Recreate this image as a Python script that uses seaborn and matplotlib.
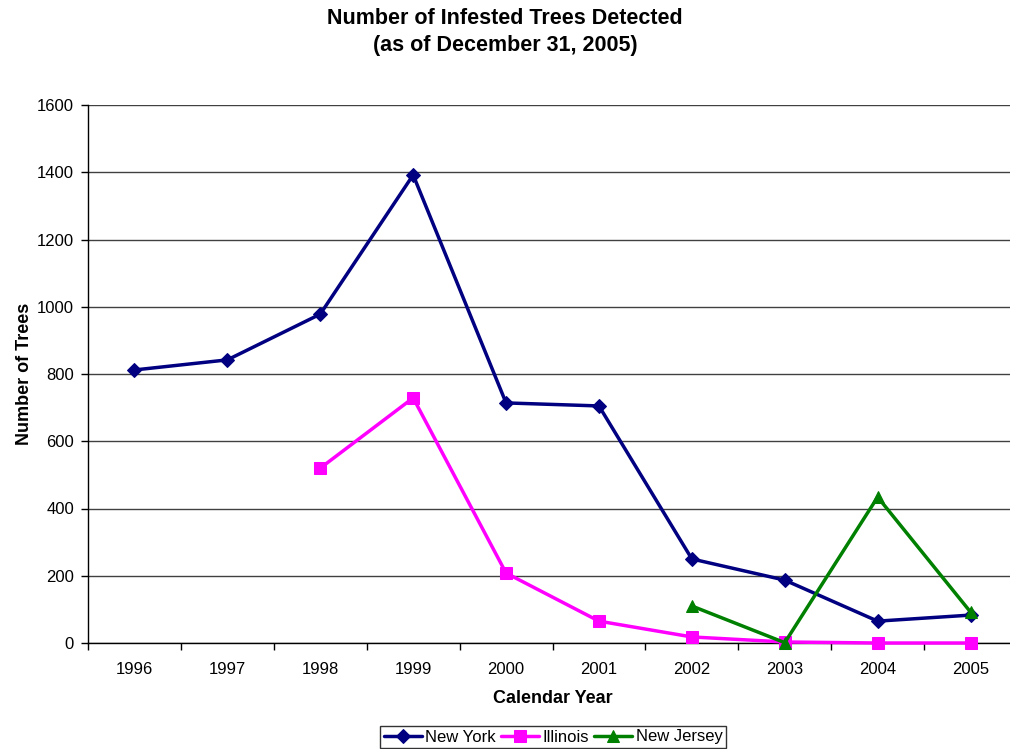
import numpy as np
import pandas as pd
import matplotlib
matplotlib.use("Agg")
import matplotlib.pyplot as plt
import seaborn as sns

years = ["1996", "1997", "1998", "1999", "2000", "2001", "2002", "2003", "2004", "2005"]
new_york = [812, 842, 978, 1392, 714, 705, 250, 187, 65, 83]
illinois = [None, None, 520, 729, 208, 65, 18, 3, 0, 0]
new_jersey = [None, None, None, None, None, None, 110, 1, 434, 92]

series = {"New York": new_york, "Illinois": illinois, "New Jersey": new_jersey}
colors = {"New York": "#000080", "Illinois": "#FF00FF", "New Jersey": "#008000"}
markers = {"New York": "D", "Illinois": "s", "New Jersey": "^"}
msizes = {"New York": 7, "Illinois": 9, "New Jersey": 9}

rows = []
for name, vals in series.items():
    for i, v in enumerate(vals):
        if v is not None:
            rows.append({"pos": i, "year": years[i], "trees": v, "state": name})
df = pd.DataFrame(rows)

sns.set_theme(style="white")
plt.rcParams["font.family"] = ["Liberation Sans", "DejaVu Sans"]
plt.rcParams["text.color"] = "black"
plt.rcParams["axes.labelcolor"] = "black"

fig = plt.figure(figsize=(10.10, 7.49), dpi=100)
ax = fig.add_axes([88 / 1010, 1 - 643 / 749, 929 / 1010, 538 / 749])

for name in series:
    sub = df[df["state"] == name]
    sns.lineplot(data=sub, x="pos", y="trees", ax=ax, color=colors[name],
                 marker=markers[name], markersize=msizes[name],
                 markeredgecolor=colors[name], linewidth=2.5, label=name,
                 clip_on=False, zorder=3)

ax.set_xlim(-0.5, 9.5)
ax.set_ylim(0, 1600)
ax.set_yticks(np.arange(0, 1601, 200))
ax.set_xticks(range(len(years)))
ax.set_xticklabels(years)
ax.set_xticks(np.arange(-0.5, 9.6, 1), minor=True)
ax.tick_params(axis="x", which="major", length=0, labelsize=12, pad=14, colors="black")
ax.tick_params(axis="x", which="minor", length=5, width=1, direction="out", color="black", bottom=True)
ax.tick_params(axis="y", which="major", length=5, width=1, direction="out", left=True,
               labelsize=12, pad=5, colors="black")
ax.grid(axis="y", color="black", linewidth=1, alpha=0.75)
ax.grid(axis="x", visible=False)
ax.set_axisbelow(True)
for side in ["top", "right"]:
    ax.spines[side].set_visible(False)
for side in ["left", "bottom"]:
    ax.spines[side].set_color("black")
    ax.spines[side].set_linewidth(1)

ax.set_xlabel("Calendar Year", fontsize=13, fontweight="bold", labelpad=9)
ax.set_ylabel("Number of Trees", fontsize=13, fontweight="bold", labelpad=3)
ax.legend_.remove()

fig.text(0.5, 1 - 18 / 749, "Number of Infested Trees Detected", ha="center", va="center",
         fontsize=15.5, fontweight="bold")
fig.text(0.5, 1 - 46 / 749, "(as of December 31, 2005)", ha="center", va="center",
         fontsize=15.5, fontweight="bold")

handles, labels = ax.get_legend_handles_labels()
leg = fig.legend(handles, labels, loc="center", bbox_to_anchor=(553 / 1010, 1 - 737 / 749),
                 ncol=3, frameon=True, fancybox=False, edgecolor="black", fontsize=12,
                 handlelength=2.3, handletextpad=0.2, columnspacing=0.3,
                 borderpad=0.2, borderaxespad=0)
leg.get_frame().set_linewidth(1)

fig.savefig("out.png", dpi=100)
